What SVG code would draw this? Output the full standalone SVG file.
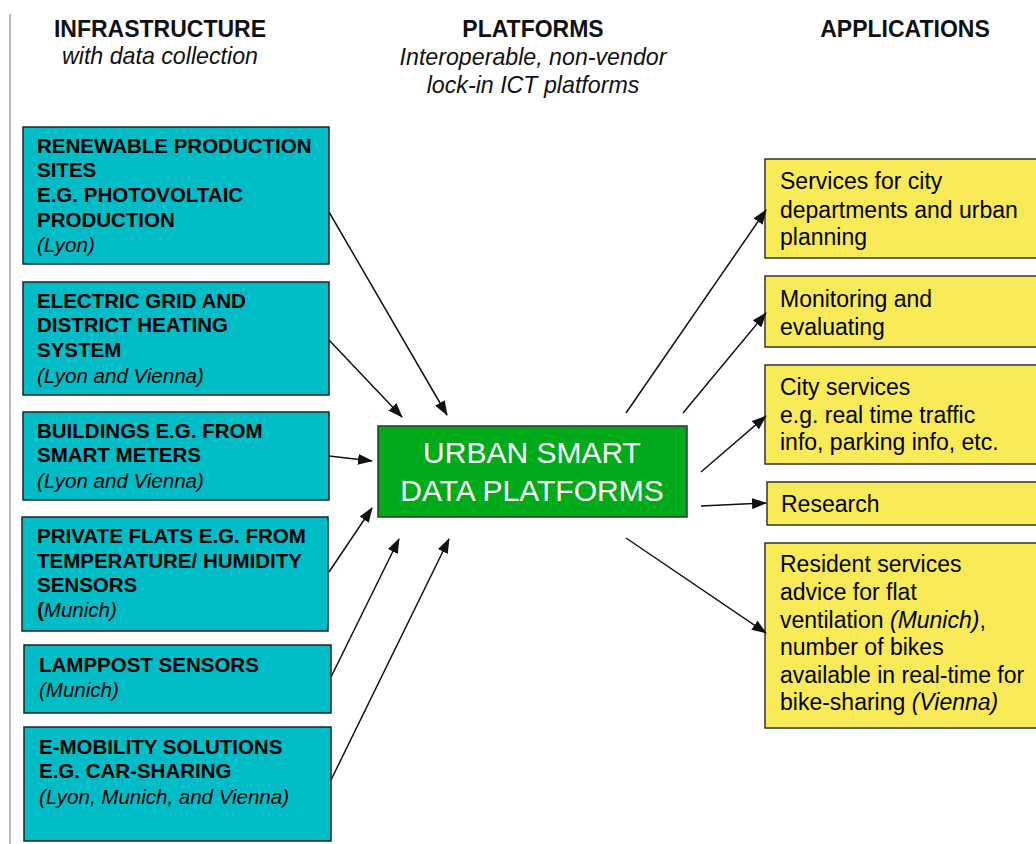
<svg xmlns="http://www.w3.org/2000/svg" width="1036" height="844" viewBox="0 0 1036 844">
<style>
.hdr{font-family:"Liberation Sans",Arial,sans-serif;font-size:23px;font-weight:bold;fill:#111;text-anchor:middle}
.sub{font-family:"Liberation Sans",Arial,sans-serif;font-size:23.2px;font-style:italic;fill:#111;text-anchor:middle}
.inf rect{fill:#00BCC7;stroke:#222;stroke-width:1.5}
.inf text{font-family:"Liberation Sans",Arial,sans-serif;font-size:20.5px;font-weight:bold;fill:#000}
.inf .it{font-style:italic;font-weight:normal}
.app rect{fill:#F9EA58;stroke:#333;stroke-width:1.5}
.app text{font-family:"Liberation Sans",Arial,sans-serif;font-size:23px;fill:#000}
.app .it{font-style:italic}
.ctr rect{fill:#00AB1B;stroke:#333;stroke-width:1.5}
.ctr text{font-family:"Liberation Sans",Arial,sans-serif;font-size:30px;fill:#fff;text-anchor:middle}
.con line{stroke:#111;stroke-width:1.5;marker-end:url(#ah)}
</style>
<defs>
<marker id="ah" markerWidth="15" markerHeight="11" refX="14" refY="5.5" orient="auto" markerUnits="userSpaceOnUse">
<path d="M0,0 L15,5.5 L0,11 Z" fill="#111"/>
</marker>
</defs>
<rect width="1036" height="844" fill="#fff"/>
<line x1="10" y1="14" x2="10" y2="844" stroke="#bbb" stroke-width="2"/>
<g id="headers">
<text class="hdr" x="160" y="37">INFRASTRUCTURE</text>
<text class="sub" x="160" y="64">with data collection</text>
<text class="hdr" x="533" y="37">PLATFORMS</text>
<text class="sub" x="533" y="65">Interoperable, non-vendor</text>
<text class="sub" x="533" y="93">lock-in ICT platforms</text>
<text class="hdr" x="905" y="37">APPLICATIONS</text>
</g>
<g id="inf1" class="inf">
<rect x="23" y="127" width="306" height="137"/>
<text x="37" y="153">RENEWABLE PRODUCTION</text>
<text x="37" y="177">SITES</text>
<text x="37" y="202">E.G. PHOTOVOLTAIC</text>
<text x="37" y="227">PRODUCTION</text>
<text x="37" y="252" class="it">(Lyon)</text>
</g>
<g id="inf2" class="inf">
<rect x="23" y="282" width="306" height="113"/>
<text x="37" y="308">ELECTRIC GRID AND</text>
<text x="37" y="332">DISTRICT HEATING</text>
<text x="37" y="357">SYSTEM</text>
<text x="37" y="383" class="it">(Lyon and Vienna)</text>
</g>
<g id="inf3" class="inf">
<rect x="23" y="412" width="306" height="88"/>
<text x="37" y="438">BUILDINGS E.G. FROM</text>
<text x="37" y="462">SMART METERS</text>
<text x="37" y="488" class="it">(Lyon and Vienna)</text>
</g>
<g id="inf4" class="inf">
<rect x="22" y="517" width="306" height="114"/>
<text x="37" y="543">PRIVATE FLATS E.G. FROM</text>
<text x="37" y="568">TEMPERATURE/ HUMIDITY</text>
<text x="37" y="592">SENSORS</text>
<text x="37" y="617">(<tspan class="it">Munich)</tspan></text>
</g>
<g id="inf5" class="inf">
<rect x="24" y="645" width="307" height="68"/>
<text x="39" y="672">LAMPPOST SENSORS</text>
<text x="39" y="697" class="it">(Munich)</text>
</g>
<g id="inf6" class="inf">
<rect x="24" y="727" width="307" height="114"/>
<text x="39" y="754">E-MOBILITY SOLUTIONS</text>
<text x="39" y="778">E.G. CAR-SHARING</text>
<text x="39" y="804" class="it">(Lyon, Munich, and Vienna)</text>
</g>
<g id="platform" class="ctr">
<rect x="378" y="426" width="309" height="91"/>
<text x="532" y="463">URBAN SMART</text>
<text x="532" y="501">DATA PLATFORMS</text>
</g>
<g id="app1" class="app">
<rect x="765" y="159" width="280" height="99"/>
<text x="780" y="189">Services for city</text>
<text x="780" y="218">departments and urban</text>
<text x="780" y="245">planning</text>
</g>
<g id="app2" class="app">
<rect x="765" y="276" width="280" height="71"/>
<text x="780" y="307">Monitoring and</text>
<text x="780" y="335">evaluating</text>
</g>
<g id="app3" class="app">
<rect x="765" y="365" width="280" height="99"/>
<text x="780" y="395">City services</text>
<text x="780" y="423">e.g. real time traffic</text>
<text x="780" y="450">info, parking info, etc.</text>
</g>
<g id="app4" class="app">
<rect x="767" y="482" width="280" height="43"/>
<text x="781" y="512">Research</text>
</g>
<g id="app5" class="app">
<rect x="765" y="543" width="280" height="185"/>
<text x="780" y="572">Resident services</text>
<text x="780" y="600">advice for flat</text>
<text x="780" y="628">ventilation <tspan class="it">(Munich)</tspan>,</text>
<text x="780" y="655">number of bikes</text>
<text x="780" y="683">available in real-time for</text>
<text x="780" y="710">bike-sharing <tspan class="it">(Vienna)</tspan></text>
</g>
<g id="connectors" class="con">
<line x1="329" y1="212" x2="447" y2="415"/>
<line x1="329" y1="340" x2="402" y2="417"/>
<line x1="329" y1="456" x2="372" y2="461"/>
<line x1="329" y1="572" x2="372" y2="508"/>
<line x1="331" y1="677" x2="399" y2="539"/>
<line x1="331" y1="780" x2="449" y2="539"/>
<line x1="626" y1="413" x2="766" y2="210"/>
<line x1="683" y1="413" x2="766" y2="313"/>
<line x1="701" y1="472" x2="766" y2="416"/>
<line x1="701" y1="506" x2="766" y2="503"/>
<line x1="626" y1="538" x2="766" y2="633"/>
</g>
</svg>
